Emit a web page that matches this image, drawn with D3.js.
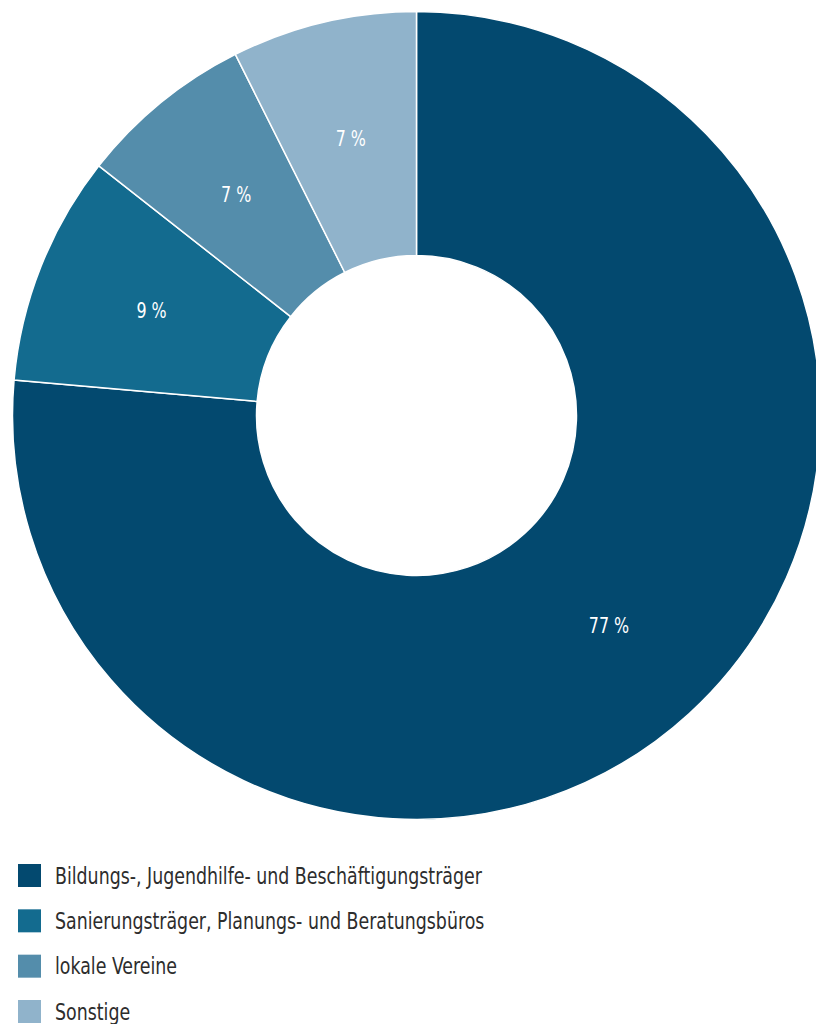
<!DOCTYPE html>
<html>
<head>
<meta charset="utf-8">
<script src="https://cdn.jsdelivr.net/npm/d3@7"></script>
<style>
  body { margin: 0; background: #fff; }
  svg { display: block; font-family: "Liberation Sans Narrow", "DejaVu Sans Condensed", sans-serif; }
</style>
</head>
<body>
<div id="chart"></div>
<script>
// shares, labels as printed in the chart
const categories = [
    "Bildungs-, Jugendhilfe- und Beschäftigungsträger",
    "Sanierungsträger, Planungs- und Beratungsbüros",
    "lokale Vereine",
    "Sonstige"
];
const shares = [76.4, 9.2, 7.0, 7.4];
const shareLabels = ["77 %", "9 %", "7 %", "7 %"];
const colors = ["#03496f", "#136b8f", "#548dab", "#90b3cb"];

const width = 816, height = 1024;
const cx = 416.5, cy = 415.5;
const outerR = 404, innerR = 160;

const svg = d3.select("#chart")
    .append("svg")
    .attr("width", width)
    .attr("height", height);

const color = d3.scaleOrdinal().domain(categories).range(colors);

const pie = d3.pie()
    .sort(null)
    .value(d => d.value);

const data = categories.map((c, i) => ({ name: c, value: shares[i], label: shareLabels[i] }));

const arc = d3.arc().innerRadius(innerR).outerRadius(outerR);
const labelArc = d3.arc().innerRadius(285).outerRadius(285);

const g = svg.append("g")
    .attr("transform", `translate(${cx}, ${cy})`);

const slices = pie(data);

g.selectAll("path")
    .data(slices)
    .enter().append("path")
    .attr("d", arc)
    .attr("fill", d => color(d.data.name))
    .attr("stroke", "#fff")
    .attr("stroke-width", 1.5);

// legend
const legend = svg.append("g")
    .attr("transform", "translate(18, 864)");

const rowY = d3.scalePoint().domain(categories).range([0, 136]);

legend.selectAll("rect")
    .data(categories)
    .enter().append("rect")
    .attr("x", 0)
    .attr("y", d => rowY(d))
    .attr("width", 23)
    .attr("height", 23)
    .attr("fill", d => color(d));

const legendText = legend.selectAll("text")
    .data(categories)
    .enter().append("text")
    .attr("dy", "0.35em")
    .attr("fill", "#2d2d2d")
    .style("font-size", "23px")
    .text(d => d);

// the original uses a condensed face: squeeze glyphs so the first line is as wide
const firstW = legendText.node().getComputedTextLength();
const squeeze = 427 / firstW;

legendText.attr("transform", d => `translate(37, ${rowY(d) + 11.5}) scale(${squeeze}, 1)`);

g.selectAll("text")
    .data(slices)
    .enter().append("text")
    .attr("transform", d => `translate(${labelArc.centroid(d)}) scale(${squeeze}, 1)`)
    .attr("text-anchor", "middle")
    .attr("dy", "0.35em")
    .attr("fill", "#fff")
    .style("font-size", "21px")
    .text(d => d.data.label);
</script>
</body>
</html>
